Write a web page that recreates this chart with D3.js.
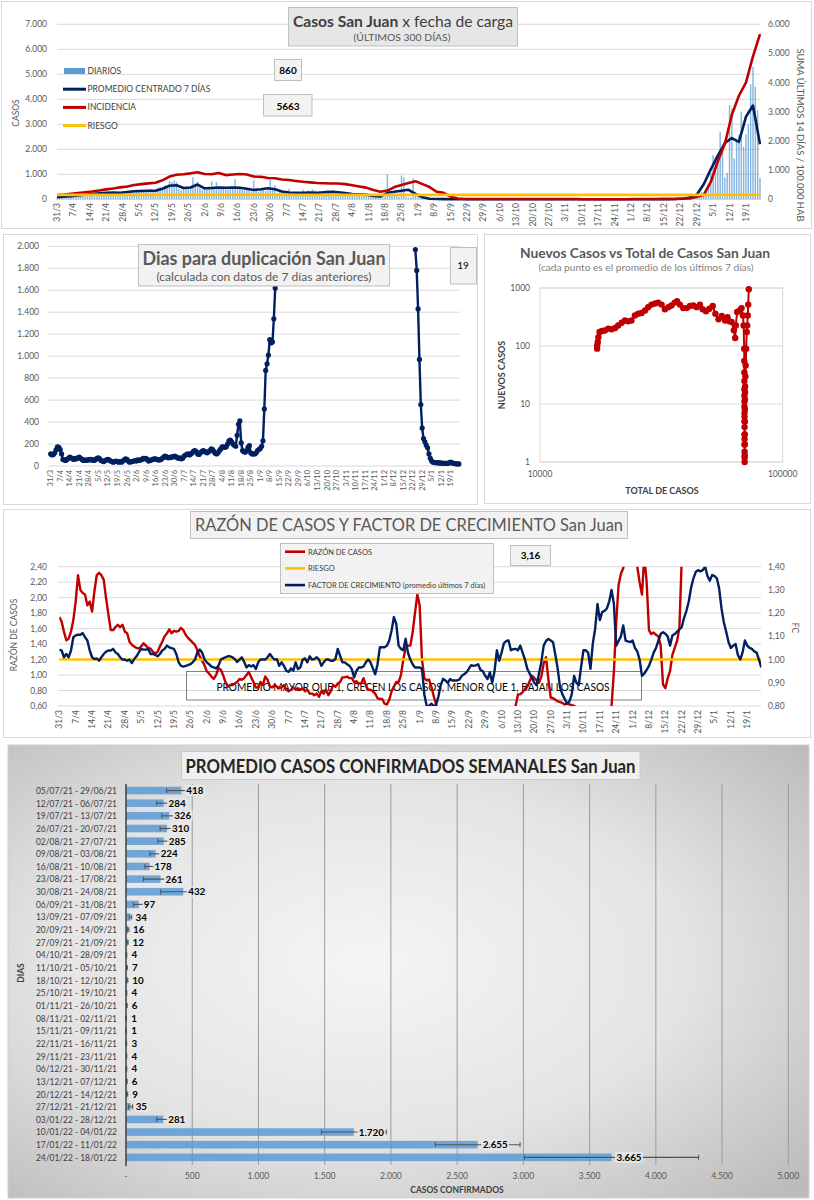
<!DOCTYPE html>
<html lang="es">
<head>
<meta charset="UTF-8">
<title>Casos San Juan</title>
<script src="https://d3js.org/d3.v7.min.js"></script>
<style>
  body { margin: 0; background: #fff; }
  svg text { font-family: Lato, "Open Sans", sans-serif; }
  .tick { font-size: 8.5px; fill: #595959; }
</style>
</head>
<body>
<svg id="chart" width="814" height="1200"></svg>
<script>
// ---------- datos ----------
// casos diarios desde el 31/3/2021 (un valor por día, 301 días)
const diarios = [
  60, 90, 120, 40, 150, 70, 110,  140, 90, 200, 160, 110, 230, 180,
  210, 160, 260, 190, 240, 280, 220,  300, 250, 210, 320, 260, 230, 290,
  270, 310, 240, 350, 300, 280, 380,  320, 410, 290, 350, 330, 420, 300,
  360, 450, 500, 380, 560, 520, 740,  700, 760, 690, 420, 380, 460, 500,
  430, 520, 880, 620, 700, 480, 390,  450, 400, 520, 720, 480, 690, 420,
  460, 520, 430, 390, 500, 470, 800,  450, 520, 400, 360, 430, 380, 310,
  750, 350, 300, 420, 380, 340, 360,  780, 420, 560, 250, 280, 330, 260,
  240, 420, 280, 300, 250, 260, 230,  380, 270, 350, 300, 400, 350, 260,
  300, 290, 330, 380, 310, 300, 380,  300, 280, 230, 260, 265, 280, 260,
  250, 190, 220, 210, 260, 180, 250,  220, 200, 170, 110, 140, 160, 80,
  120, 1000, 150, 170, 140, 170, 100,  950, 880, 100, 80, 70, 840, 300,
  120, 90, 60, 50, 30, 30, 60,  50, 40, 30, 20, 20, 18, 25,
  20, 15, 15, 12, 15, 10, 15,  12, 10, 14, 10, 12, 11, 5,
  4, 3, 6, 4, 3, 3, 8,  6, 7, 9, 5, 7, 7, 12,
  8, 10, 14, 9, 8, 9, 4,  5, 3, 4, 5, 3, 4, 6,
  7, 5, 6, 8, 5, 5, 1,  2, 1, 0, 1, 1, 1, 1,
  1, 0, 2, 1, 1, 1, 3,  2, 4, 3, 3, 4, 2, 4,
  5, 3, 4, 4, 5, 3, 3,  4, 5, 4, 4, 4, 4, 5,
  7, 6, 6, 5, 7, 6, 8,  10, 9, 9, 10, 8, 9, 15,
  20, 25, 30, 40, 50, 65, 80,  120, 190, 300, 260, 420, 600, 1065,
  1770, 1700, 1840, 2700, 2100, 865, 1065,  3770, 3640, 1640, 2370, 2600, 3500, 2100,
  2600, 3000, 4600, 5300, 4500, 3555, 860
];
// promedio centrado 7 días, leído cada 3 días
const pasoLineas = 3;
const promedio7 = [
  80, 100, 125, 150, 180, 210, 240, 265, 270, 265,
  290, 320, 335, 340, 345, 420, 540, 560, 450, 470,
  590, 440, 450, 470, 460, 470, 465, 420, 375, 400,
  440, 400, 310, 275, 265, 265, 270, 265, 280, 300,
  280, 250, 215, 200, 185, 130, 110, 260, 300, 340,
  380, 220, 80, 25, 10, 8, 6, 5, 4, 4,
  3, 3, 3, 3, 3, 3, 3, 3, 3, 3,
  3, 3, 3, 2, 2, 0, 0, 0, 0, 0,
  0, 0, 3, 3, 4, 5, 7, 8, 12, 25,
  70, 180, 600, 1200, 1750, 2250, 2450, 2300, 3300, 3750,
  2200
];
// incidencia: suma últimos 14 días / 100.000 hab, leída cada 3 días
const incidencia = [
  147, 165, 190, 215, 240, 265, 300, 340, 370, 410,
  440, 490, 520, 545, 570, 650, 780, 840, 860, 890,
  930, 870, 860, 905, 830, 850, 870, 850, 780, 770,
  730, 720, 680, 660, 630, 600, 580, 560, 550, 540,
  540, 520, 480, 440, 400, 320, 260, 300, 420, 490,
  560, 620, 520, 420, 260, 220, 90, 30, 12, 10,
  11, 9, 10, 10, 12, 9, 10, 11, 10, 9,
  10, 10, 9, 10, 10, 0, 0, 0, 0, 0,
  0, 0, 8, 8, 9, 10, 10, 12, 15, 25,
  30, 90, 150, 600, 1300, 1900, 2900, 3550, 4000, 4900,
  5663
];
const riesgoIncidencia = 150;
const ultimoDiario = "860";
const ultimaIncidencia = "5663";

// días para duplicación (dos tramos; entre ellos el valor supera la escala)
const duplicacionTramoA = [
  110, 100, 105, 120, 150, 175, 170, 150, 110, 60,
  55, 50, 60, 70, 80, 75, 65, 60, 70, 65,
  75, 80, 70, 60, 50, 55, 50, 55, 55, 60,
  55, 55, 50, 60, 70, 75, 65, 50, 45, 40,
  50, 55, 60, 55, 45, 40, 35, 40, 45, 40,
  35, 40, 35, 45, 55, 65, 60, 45, 35, 40,
  40, 45, 50, 45, 55, 50, 55, 60, 70, 65,
  70, 60, 45, 50, 55, 60, 65, 65, 60, 55,
  55, 60, 70, 80, 90, 85, 75, 75, 80, 80,
  85, 90, 85, 75, 70, 75, 65, 70, 90, 100,
  105, 110, 100, 110, 120, 135, 140, 130, 110, 105,
  120, 130, 140, 135, 125, 120, 130, 140, 155, 150,
  130, 115, 110, 120, 140, 155, 175, 175, 170, 175,
  200, 230, 235, 220, 200, 190, 180, 280, 380, 410,
  210, 140, 130, 125, 140, 170, 185, 120, 110, 110,
  110, 120, 140, 150, 160, 180, 230, 520, 870, 930,
  1010, 1150, 1120, 1130, 1340, 1620
];
const inicioTramoB = 268;
const duplicacionTramoB = [
  1970, 1780, 1430, 970, 560, 345, 250, 220, 190, 165,
  110, 70, 45, 35, 32, 30, 30, 28, 28, 27,
  26, 25, 25, 24, 24, 30, 35, 28, 25, 22,
  20, 19, 19
];
const ultimaDuplicacion = "19";

// nuevos casos (promedio 7 días) vs total de casos
const totalCasos = [
  17200, 17200, 17300, 17400, 17600, 18000, 18500, 19100, 19750, 20400,
  21000, 21700, 22400, 23100, 23800, 24600, 25400, 26200, 27100, 27900,
  28800, 29800, 30700, 31700, 32700, 33800, 34800, 35900, 36700, 37700,
  38900, 40200, 41500, 42800, 44200, 45600, 46800, 48300, 49900, 51500,
  52800, 54400, 56100, 57900, 59200, 60300, 61600, 62900, 63700, 64100,
  64900, 66600, 67700, 68600, 69000, 69400, 69450, 69500, 69520, 69540,
  69560, 69580, 69600, 69610, 69620, 69630, 69640, 69650, 69660, 69670,
  69680, 69690, 69700, 69720, 69740, 69760, 69800, 69850, 69900, 69950,
  70000, 70200, 70400, 70700, 71100, 71400, 71800, 72100, 72500
];
const nuevosCasos = [
  90, 102, 117, 142, 174, 181, 185, 199, 195, 204,
  226, 251, 276, 266, 276, 336, 360, 370, 410, 468,
  517, 540, 560, 517, 430, 468, 500, 560, 590, 517,
  450, 450, 490, 500, 468, 517, 430, 398, 440, 490,
  360, 288, 330, 276, 314, 266, 259, 186, 137, 226,
  386, 410, 450, 336, 226, 90, 55, 35, 25, 18,
  14, 11, 9, 7, 6, 5, 4, 3, 2.5, 2,
  1.5, 1.2, 1, 1.3, 2, 3, 5, 8, 12, 16,
  20, 30, 46, 90, 174, 226, 336, 517, 950
];
const ticksNuevos = [1, 10, 100, 1000];
const ticksTotal = [10000, 100000];

// razón de casos (eje izq.) y factor de crecimiento (eje der.), diarios
const razonCasos = [
  1.75, 1.69, 1.56, 1.45, 1.47, 1.56, 1.71, 1.95, 2.29, 2.10,
  2.06, 2.04, 1.90, 1.95, 1.82, 2.08, 2.29, 2.32, 2.29, 2.23,
  1.99, 1.78, 1.58, 1.58, 1.62, 1.65, 1.62, 1.65, 1.56, 1.54,
  1.43, 1.39, 1.37, 1.35, 1.34, 1.37, 1.41, 1.38, 1.35, 1.34,
  1.30, 1.28, 1.30, 1.37, 1.43, 1.50, 1.54, 1.59, 1.54, 1.57,
  1.56, 1.57, 1.61, 1.58, 1.52, 1.48, 1.45, 1.42, 1.39, 1.32,
  1.24, 1.19, 1.13, 1.05, 1.02, 0.98, 0.95, 1.00, 1.09, 1.07,
  1.00, 0.91, 0.85, 0.87, 0.87, 0.89, 0.91, 0.95, 0.94, 0.96,
  1.00, 1.04, 0.97, 0.91, 0.84, 0.84, 0.91, 0.87, 0.98, 0.94,
  0.85, 0.84, 0.87, 0.85, 0.83, 0.84, 0.87, 0.81, 0.79, 0.81,
  0.84, 0.81, 0.83, 0.81, 0.83, 0.79, 0.81, 0.76, 0.76, 0.74,
  0.76, 0.72, 0.79, 0.76, 0.81, 0.74, 0.79, 0.87, 0.85, 0.89,
  0.91, 0.97, 0.97, 0.98, 0.96, 0.96, 0.91, 0.92, 0.89, 0.89,
  0.96, 0.87, 0.81, 0.81, 0.79, 0.76, 0.70, 0.69, 0.69, 0.63,
  0.62, 0.68, 0.79, 0.85, 0.91, 0.91, 1.00, 1.20, 1.35, 1.38,
  1.38, 1.55, 1.80, 2.04, 1.90, 1.20, 0.96, 0.93, 0.94, 0.85,
  0.73, 0.62, 0.50, 0.45, 0.40, 0.40, 0.40, 0.40, 0.40, 0.40,
  0.40, 0.40, 0.40, 0.40, 0.40, 0.40, 0.40, 0.40, 0.40, 0.40,
  0.40, 0.40, 0.40, 0.40, 0.40, 0.40, 0.40, 0.40, 0.40, 0.40,
  0.40, 0.40, 0.40, 0.40, 0.45, 0.60, 0.75, 0.75, 0.78, 0.82,
  0.85, 0.92, 0.99, 0.96, 0.93, 0.90, 0.98, 1.15, 1.23, 0.95,
  0.71, 0.70, 0.68, 0.66, 0.65, 0.64, 0.62, 0.63, 0.62, 0.61,
  0.60, 0.58, 0.45, 0.40, 0.40, 0.40, 0.40, 0.40, 0.40, 0.40,
  0.40, 0.40, 0.40, 0.40, 0.40, 0.45, 0.60, 1.04, 1.68, 2.16,
  2.31, 2.38, 2.60, 2.70, 2.80, 2.70, 2.55, 2.40, 2.20, 2.04,
  2.55, 2.20, 1.58, 1.53, 1.55, 1.52, 1.50, 1.38, 0.88, 0.83,
  0.96, 1.05, 1.26, 1.35, 1.44, 1.61, 2.50, 2.90, 3.20, 3.50,
  3.80, 4.00, 4.20, 4.50, 4.60, 4.80, 5.00, 5.20, 5.00, 4.80,
  4.60, 4.40, 4.20, 4.00, 3.90, 3.80, 3.70, 3.60, 3.50, 3.45,
  3.40, 3.35, 3.30, 3.30, 3.25, 3.20, 3.20, 3.18, 3.17, 3.16,
  3.16
];
const factorCrecimiento = [
  1.043, 1.039, 1.01, 1.024, 1.01, 1.039, 1.096, 1.104, 1.107, 1.107,
  1.114, 1.096, 1.082, 1.039, 1.01, 1.002, 1.005, 0.995, 1.01, 1.024,
  1.034, 1.039, 1.039, 1.046, 1.031, 1.024, 1.01, 1.0, 1.0, 0.995,
  1.0, 0.985, 1.002, 1.014, 1.031, 1.046, 1.043, 1.043, 1.046, 1.024,
  1.024, 1.02, 1.014, 1.024, 1.039, 1.046, 1.06, 1.053, 1.049, 1.046,
  1.024, 0.988, 0.973, 0.97, 0.973, 0.976, 0.98, 0.988, 1.0, 1.031,
  1.043, 1.031, 1.002, 0.988, 0.98, 0.97, 0.966, 0.962, 0.973, 1.0,
  1.005, 1.01, 1.014, 1.014, 1.01, 1.002, 0.99, 1.0, 1.01, 0.99,
  0.966, 0.976, 0.97, 0.976, 0.959, 0.988, 1.0, 1.0, 1.0, 1.01,
  1.024, 1.01, 1.0, 1.002, 0.973, 0.988, 0.973, 0.952, 0.947, 0.962,
  0.952, 0.988, 0.959, 0.966, 1.0, 1.005, 0.988, 1.014, 1.0, 1.002,
  1.01, 1.0, 0.973, 0.988, 1.0, 1.0, 0.995, 0.995, 1.002, 1.046,
  1.017, 0.988, 0.988, 0.98, 0.973, 0.959, 0.923, 0.952, 0.966, 0.966,
  0.97, 0.988, 1.0, 0.988, 0.962, 0.937, 0.98, 1.053, 1.053, 1.053,
  1.06, 1.082, 1.125, 1.183, 1.154, 1.06, 1.046, 1.04, 1.09, 1.03,
  1.0, 0.98, 0.966, 0.966, 0.966, 0.96, 0.85, 0.80, 0.80, 0.81,
  0.80, 0.805, 0.84, 0.89, 0.917, 0.91, 0.90, 0.916, 0.91, 0.91,
  0.91, 0.915, 0.93, 0.937, 0.945, 0.96, 0.976, 0.973, 0.975, 0.98,
  0.955, 0.95, 0.93, 0.916, 0.945, 0.9, 0.95, 1.04, 0.995, 1.03,
  1.07, 1.08, 1.082, 1.04, 1.045, 1.046, 1.04, 1.06, 1.03, 1.0,
  0.96, 0.94, 0.92, 0.9, 0.89, 0.94, 0.99, 1.06, 1.08, 1.089,
  1.082, 1.075, 1.02, 0.96, 0.88, 0.85, 0.83, 0.81, 0.82, 0.85,
  0.93, 0.9, 0.89, 0.97, 1.04, 1.04, 1.03, 0.96, 1.07, 1.133,
  1.24, 1.17, 1.205, 1.21, 1.22, 1.25, 1.3, 1.24, 1.06, 1.08,
  1.1, 1.147, 1.082, 1.078, 1.075, 1.082, 1.05, 1.035, 1.0, 0.93,
  0.94, 0.955, 0.973, 1.0, 1.03, 1.05, 1.08, 1.11, 1.118, 1.111,
  1.1, 1.06, 1.104, 1.11, 1.12, 1.13, 1.14, 1.18, 1.21, 1.25,
  1.31, 1.35, 1.378, 1.385, 1.38, 1.385, 1.40, 1.36, 1.34, 1.364,
  1.36, 1.35, 1.306, 1.22, 1.16, 1.12, 1.075, 1.05, 1.06, 1.067,
  1.02, 1.0, 1.031, 1.082, 1.06, 1.05, 1.046, 1.035, 1.03, 1.0,
  0.966
];
const riesgoRazon = 1.2;
const ultimaRazon = "3,16";

// promedio semanal de casos confirmados
const semanas = [
  "05/07/21 - 29/06/21", "12/07/21 - 06/07/21", "19/07/21 - 13/07/21", "26/07/21 - 20/07/21",
  "02/08/21 - 27/07/21", "09/08/21 - 03/08/21", "16/08/21 - 10/08/21", "23/08/21 - 17/08/21",
  "30/08/21 - 24/08/21", "06/09/21 - 31/08/21", "13/09/21 - 07/09/21", "20/09/21 - 14/09/21",
  "27/09/21 - 21/09/21", "04/10/21 - 28/09/21", "11/10/21 - 05/10/21", "18/10/21 - 12/10/21",
  "25/10/21 - 19/10/21", "01/11/21 - 26/10/21", "08/11/21 - 02/11/21", "15/11/21 - 09/11/21",
  "22/11/21 - 16/11/21", "29/11/21 - 23/11/21", "06/12/21 - 30/11/21", "13/12/21 - 07/12/21",
  "20/12/21 - 14/12/21", "27/12/21 - 21/12/21", "03/01/22 - 28/12/21", "10/01/22 - 04/01/22",
  "17/01/22 - 11/01/22", "24/01/22 - 18/01/22"
];
const promedioSemanal = [418, 284, 326, 310, 285, 224, 178, 261, 432, 97, 34, 16, 12, 4, 7,
  10, 4, 6, 1, 1, 3, 4, 4, 6, 9, 35, 281, 1720, 2655, 3665];
const errorSemanal = [111, 52, 56, 53, 45, 43, 35, 130, 170, 42, 9, 6, 4, 2, 3,
  4, 2, 3, 1, 1, 2, 2, 2, 3, 4, 15, 49, 245, 320, 658];

// ---------- utilidades ----------
const inicio = new Date(2021, 2, 31);
const fecha = i => d3.timeDay.offset(inicio, i);
const fmtFecha = d3.timeFormat("%-d/%-m");
const es = d3.formatLocale({decimal: ",", thousands: ".", grouping: [3], currency: ["$", ""]});
const fmtMiles = es.format(",.0f");
const fmtDec2 = es.format(".2f");
const marcasSemanales = d3.range(0, 295, 7);

const AZUL = "#002060", ROJO = "#c00000", AMARILLO = "#ffc000", CELESTE = "#5b9bd5";

const svg = d3.select("#chart");
const defs = svg.append("defs");

function texto(g, x, y, s, size, o = {}) {
  const t = g.append("text").attr("x", x).attr("y", y).attr("font-size", size)
    .attr("fill", o.fill || "#595959").attr("text-anchor", o.anchor || "start").text(s);
  if (o.bold) t.attr("font-weight", "bold");
  if (o.len) t.attr("textLength", o.len).attr("lengthAdjust", "spacingAndGlyphs");
  if (o.rot) t.attr("transform", `rotate(${o.rot},${x},${y})`);
  return t;
}
function caja(g, x, y, w, h, fill, stroke) {
  return g.append("rect").attr("x", x).attr("y", y).attr("width", w).attr("height", h)
    .attr("fill", fill || "#f2f2f2").attr("stroke", stroke || "#bfbfbf");
}
function fechasEje(g, x, y0, size) {
  g.selectAll(null).data(marcasSemanales).join("text")
    .attr("transform", d => `translate(${x(fecha(d)) + size * 0.35},${y0}) rotate(-90)`)
    .attr("text-anchor", "end").attr("font-size", size).attr("fill", "#595959")
    .text(d => fmtFecha(fecha(d)));
}

// ---------- 1. casos por fecha de carga ----------
const gA = svg.append("g");
caja(gA, 1.5, 1.5, 810, 227, "#fff", "#d9d9d9");
const xA = d3.scaleTime().domain([fecha(0), fecha(300)]).range([57, 760]);
const yA = d3.scaleLinear().domain([0, 7000]).range([199.3, 24.3]);
const yA2 = d3.scaleLinear().domain([0, 6000]).range([199.3, 24.3]);

gA.selectAll(null).data(yA.ticks(7)).join("line")
  .attr("x1", 57).attr("x2", 760).attr("y1", d => yA(d)).attr("y2", d => yA(d))
  .attr("stroke", "#d9d9d9");
gA.selectAll(null).data(yA.ticks(7)).join("text").attr("class", "tick")
  .attr("x", 47).attr("y", d => yA(d) + 3).attr("text-anchor", "end").text(d => fmtMiles(d));
gA.selectAll(null).data(yA2.ticks(6)).join("text").attr("class", "tick")
  .attr("x", 768).attr("y", d => yA2(d) + 3).text(d => fmtMiles(d));
fechasEje(gA, xA, 203, 8.5);
texto(gA, 19, 113, "CASOS", 8.5, {anchor: "middle", rot: -90});
texto(gA, 797, 135, "SUMA  ÚLTIMOS 14 DÍAS / 100.000 HAB", 9.5, {anchor: "middle", rot: 90, len: 173});

gA.selectAll(null).data(diarios).join("rect")
  .attr("x", (d, i) => xA(fecha(i)) - 0.7).attr("width", 1.4)
  .attr("y", d => yA(d)).attr("height", d => yA(0) - yA(d))
  .attr("fill", CELESTE).attr("opacity", 0.75);

const serieA = (arr, y) => d3.line()
  .x((p, k) => xA(fecha(k * pasoLineas))).y(p => y(p))(arr);
gA.append("path").attr("d", serieA(promedio7, yA)).attr("fill", "none")
  .attr("stroke", AZUL).attr("stroke-width", 2.6).attr("stroke-linejoin", "round");
gA.append("path").attr("d", serieA(incidencia, yA2)).attr("fill", "none")
  .attr("stroke", ROJO).attr("stroke-width", 2.6).attr("stroke-linejoin", "round");
gA.append("line").attr("x1", xA(fecha(0))).attr("x2", xA(fecha(300)))
  .attr("y1", yA2(riesgoIncidencia)).attr("y2", yA2(riesgoIncidencia))
  .attr("stroke", AMARILLO).attr("stroke-width", 2.8);

// leyenda
const legA = [
  {t: "DIARIOS", c: CELESTE, barra: true},
  {t: "PROMEDIO CENTRADO 7 DÍAS", c: AZUL},
  {t: "INCIDENCIA", c: ROJO},
  {t: "RIESGO", c: AMARILLO}
];
legA.forEach((l, i) => {
  const y = 71 + i * 18.2;
  if (l.barra) gA.append("rect").attr("x", 64).attr("y", y - 3).attr("width", 21).attr("height", 6).attr("fill", CELESTE);
  else gA.append("line").attr("x1", 63).attr("x2", 86).attr("y1", y).attr("y2", y).attr("stroke", l.c).attr("stroke-width", 3);
  texto(gA, 87.5, y + 3, l.t, 8.5, {fill: "#404040"});
});

caja(gA, 288.5, 7.5, 229, 38.5, "#e7e6e6", "#bfbfbf");
const tA = texto(gA, 403, 27, "", 16, {anchor: "middle", fill: "#404040", len: 220});
tA.append("tspan").attr("font-weight", "bold").text("Casos San Juan");
tA.append("tspan").text(" x fecha de carga");
texto(gA, 402, 41, "(ÚLTIMOS 300 DÍAS)", 10, {anchor: "middle", len: 97});
caja(gA, 274.5, 59.5, 27, 21);
texto(gA, 288, 74, ultimoDiario, 10, {anchor: "middle", fill: "#000", bold: true});
caja(gA, 263.5, 94.5, 48.5, 21.5);
texto(gA, 288, 109.5, ultimaIncidencia, 10, {anchor: "middle", fill: "#000", bold: true});

// ---------- 2. días para duplicación ----------
const gB = svg.append("g");
caja(gB, 3.5, 234.5, 474, 270, "#fff", "#d9d9d9");
const xB = d3.scaleTime().domain([fecha(0), fecha(300)]).range([50.7, 458.9]);
const yB = d3.scaleLinear().domain([0, 2000]).range([466, 246.3]);
gB.selectAll(null).data(yB.ticks(10)).join("line")
  .attr("x1", 48).attr("x2", 460).attr("y1", d => yB(d)).attr("y2", d => yB(d)).attr("stroke", "#d9d9d9");
gB.selectAll(null).data(yB.ticks(10)).join("text").attr("class", "tick")
  .attr("x", 39).attr("y", d => yB(d) + 3).attr("text-anchor", "end").text(d => fmtMiles(d));
fechasEje(gB, xB, 470, 7.5);

const puntosB = duplicacionTramoA.map((v, i) => ({d: i, v}))
  .concat([{d: duplicacionTramoA.length, v: null}])
  .concat(duplicacionTramoB.map((v, i) => ({d: inicioTramoB + i, v})));
const lineaB = d3.line().defined(p => p.v !== null).x(p => xB(fecha(p.d))).y(p => yB(p.v));
gB.append("path").attr("d", lineaB(puntosB)).attr("fill", "none")
  .attr("stroke", AZUL).attr("stroke-width", 2.4).attr("stroke-linejoin", "round");
gB.selectAll(null).data(puntosB.filter(p => p.v !== null)).join("circle")
  .attr("cx", p => xB(fecha(p.d))).attr("cy", p => yB(p.v)).attr("r", 2.6).attr("fill", AZUL);

caja(gB, 138.5, 244.5, 251, 41.5);
texto(gB, 264, 265, "Dias para duplicación San Juan", 19, {anchor: "middle", bold: true, len: 243});
texto(gB, 264, 281, "(calculada con datos de 7 días anteriores)", 11.5, {anchor: "middle", len: 215});
caja(gB, 450.5, 247.5, 26, 36.5);
texto(gB, 463, 269, ultimaDuplicacion, 10, {anchor: "middle", fill: "#000"});

// ---------- 3. nuevos casos vs total ----------
const gC = svg.append("g");
caja(gC, 484.5, 234.5, 326, 269, "#fff", "#d9d9d9");
const xC = d3.scaleLog().domain([1e4, 1e5]).range([540, 782.7]);
const yC = d3.scaleLog().domain([1, 1000]).range([462, 288]);
gC.selectAll(null).data(ticksNuevos).join("line")
  .attr("x1", 540).attr("x2", 782.7).attr("y1", d => yC(d)).attr("y2", d => yC(d)).attr("stroke", "#d9d9d9");
gC.append("rect").attr("x", 540).attr("y", 288).attr("width", 242.7).attr("height", 174)
  .attr("fill", "none").attr("stroke", "#d9d9d9");
gC.selectAll(null).data(ticksNuevos).join("text").attr("class", "tick")
  .attr("x", 530).attr("y", d => yC(d) + 3).attr("text-anchor", "end").text(d => d);
gC.selectAll(null).data(ticksTotal).join("text").attr("class", "tick")
  .attr("x", d => xC(d)).attr("y", 477).attr("text-anchor", "middle").text(d => d);
texto(gC, 645, 258, "Nuevos Casos vs Total de Casos San Juan", 13, {anchor: "middle", bold: true, len: 250});
texto(gC, 646, 271, "(cada punto es el promedio de los últimos 7 días)", 9.5, {anchor: "middle", fill: "#7f7f7f", len: 215});
texto(gC, 505, 375, "NUEVOS  CASOS", 9, {anchor: "middle", bold: true, fill: "#404040", rot: -90});
texto(gC, 662, 494, "TOTAL DE CASOS", 9, {anchor: "middle", bold: true, fill: "#404040"});

const puntosC = totalCasos.map((t, i) => [t, nuevosCasos[i]]);
gC.append("path").attr("d", d3.line().x(p => xC(p[0])).y(p => yC(p[1]))(puntosC))
  .attr("fill", "none").attr("stroke", ROJO).attr("stroke-width", 2);
gC.selectAll(null).data(puntosC).join("circle")
  .attr("cx", p => xC(p[0])).attr("cy", p => yC(p[1])).attr("r", 3.2).attr("fill", ROJO);

// ---------- 4. razón de casos y factor de crecimiento ----------
const gD = svg.append("g");
caja(gD, 3.5, 509.5, 807, 228, "#fff", "#d9d9d9");
const xD = d3.scaleTime().domain([fecha(0), fecha(300)]).range([59.3, 761.3]);
const yD = d3.scaleLinear().domain([0.6, 2.4]).range([706, 566.7]);
const yD2 = d3.scaleLinear().domain([0.8, 1.4]).range([706, 566.7]);
gD.selectAll(null).data(yD.ticks(9)).join("line")
  .attr("x1", 58).attr("x2", 761).attr("y1", d => yD(d)).attr("y2", d => yD(d)).attr("stroke", "#d9d9d9");
gD.selectAll(null).data(yD.ticks(9)).join("text").attr("class", "tick")
  .attr("x", 47).attr("y", d => yD(d) + 3).attr("text-anchor", "end").text(d => fmtDec2(d));
gD.selectAll(null).data(yD2.ticks(6)).join("text").attr("class", "tick")
  .attr("x", 768).attr("y", d => yD2(d) + 3).text(d => fmtDec2(d));
fechasEje(gD, xD, 710, 8.5);
texto(gD, 17, 635, "RAZÓN DE CASOS", 8.5, {anchor: "middle", rot: -90});
texto(gD, 792, 628, "FC", 8.5, {anchor: "middle", rot: 90});

// cuadro de nota (detrás de las líneas)
gD.append("rect").attr("x", 186.5).attr("y", 671.5).attr("width", 455).attr("height", 28.5)
  .attr("fill", "none").attr("stroke", "#7f7f7f");
texto(gD, 413, 690.5, "PROMEDIO MAYOR QUE 1, CRECEN LOS CASOS, MENOR QUE 1, BAJAN LOS CASOS", 11,
  {anchor: "middle", fill: "#000", len: 393});

defs.append("clipPath").attr("id", "recorteD").append("rect")
  .attr("x", 59.3).attr("y", 566.7).attr("width", 702).attr("height", 139.3);
const gDl = gD.append("g").attr("clip-path", "url(#recorteD)");
const lineaD = y => d3.line().x((v, i) => xD(fecha(i))).y(v => y(v));
gDl.append("path").attr("d", lineaD(yD)(razonCasos)).attr("fill", "none")
  .attr("stroke", ROJO).attr("stroke-width", 2.4).attr("stroke-linejoin", "round");
gDl.append("line").attr("x1", xD(fecha(0))).attr("x2", xD(fecha(300)))
  .attr("y1", yD(riesgoRazon)).attr("y2", yD(riesgoRazon)).attr("stroke", AMARILLO).attr("stroke-width", 2.4);
gDl.append("path").attr("d", lineaD(yD2)(factorCrecimiento)).attr("fill", "none")
  .attr("stroke", AZUL).attr("stroke-width", 2.4).attr("stroke-linejoin", "round");

caja(gD, 190.5, 511.5, 437, 27);
texto(gD, 409, 531, "RAZÓN DE CASOS Y FACTOR DE CRECIMIENTO San Juan", 18, {anchor: "middle", len: 428});
caja(gD, 280.5, 543.5, 213, 50);
[
  {t: "RAZÓN DE CASOS", c: ROJO},
  {t: "RIESGO", c: AMARILLO},
  {t: "FACTOR DE CRECIMIENTO (promedio últimos 7 días)", c: AZUL}
].forEach((l, i) => {
  const y = 551.7 + i * 16.7;
  gD.append("line").attr("x1", 285).attr("x2", 305).attr("y1", y).attr("y2", y).attr("stroke", l.c).attr("stroke-width", 2.6);
  texto(gD, 308, y + 2.8, l.t, 7.5, {fill: "#404040"});
});
caja(gD, 510.5, 545.5, 40, 20);
texto(gD, 530.5, 559, ultimaRazon, 10, {anchor: "middle", fill: "#000", bold: true});

// ---------- 5. promedio semanal ----------
const gE = svg.append("g");
const grad = defs.append("radialGradient").attr("id", "fondoE")
  .attr("cx", "45%").attr("cy", "48%").attr("r", "72%");
grad.append("stop").attr("offset", "0").attr("stop-color", "#f5f5f5");
grad.append("stop").attr("offset", "0.55").attr("stop-color", "#e4e4e4");
grad.append("stop").attr("offset", "1").attr("stop-color", "#bcbcbc");
gE.append("rect").attr("x", 8).attr("y", 745).attr("width", 801).attr("height", 453)
  .attr("fill", "url(#fondoE)").attr("stroke", "#d0d0d0");

const xE = d3.scaleLinear().domain([0, 5000]).range([126, 788.3]);
const yE = d3.scaleBand().domain(semanas).range([781.7, 1166.2]).padding(0.4);
const ticksE = xE.ticks(10);
gE.selectAll(null).data(ticksE.filter(d => d > 0)).join("line")
  .attr("x1", d => xE(d)).attr("x2", d => xE(d)).attr("y1", 784).attr("y2", 1165)
  .attr("stroke", "#9a9a9a").attr("stroke-width", 1);
gE.selectAll(null).data(ticksE).join("text").attr("class", "tick")
  .attr("x", d => xE(d)).attr("y", 1179).attr("text-anchor", "middle").attr("font-size", 9.5)
  .text(d => d === 0 ? "-" : fmtMiles(d));
gE.selectAll(null).data(semanas).join("text")
  .attr("x", 117).attr("y", s => yE(s) + yE.bandwidth() / 2 + 3.4).attr("text-anchor", "end")
  .attr("font-size", 9.6).attr("fill", "#404040")
  .attr("textLength", 81).attr("lengthAdjust", "spacingAndGlyphs").text(s => s);

gE.selectAll(null).data(promedioSemanal).join("rect")
  .attr("x", xE(0)).attr("y", (v, i) => yE(semanas[i]))
  .attr("width", v => xE(v) - xE(0)).attr("height", yE.bandwidth())
  .attr("fill", CELESTE).attr("opacity", 0.85);

// barras de error
promedioSemanal.forEach((v, i) => {
  const yc = yE(semanas[i]) + yE.bandwidth() / 2;
  const a = xE(Math.max(0, v - errorSemanal[i])), b = xE(v + errorSemanal[i]);
  gE.append("line").attr("x1", a).attr("x2", b).attr("y1", yc).attr("y2", yc)
    .attr("stroke", "#505050").attr("stroke-width", 1.1);
  [a, b].forEach(x => gE.append("line").attr("x1", x).attr("x2", x)
    .attr("y1", yc - 2.5).attr("y2", yc + 2.5).attr("stroke", "#505050").attr("stroke-width", 1));
});
// etiquetas de valor
promedioSemanal.forEach((v, i) => {
  const yc = yE(semanas[i]) + yE.bandwidth() / 2;
  const bg = gE.append("rect");
  const t = texto(gE, xE(v) + 5, yc + 3.5, fmtMiles(v), 9.8, {fill: "#000", bold: true});
  const w = t.node().getComputedTextLength();
  bg.attr("x", xE(v) + 3.5).attr("y", yc - 5.5).attr("width", w + 3).attr("height", 11)
    .attr("rx", 1.5).attr("fill", "#e9e9e9").attr("opacity", 0.85);
});

gE.append("line").attr("x1", xE(0)).attr("x2", xE(0)).attr("y1", 784).attr("y2", 1166)
  .attr("stroke", "#404040").attr("stroke-width", 1.5);

caja(gE, 181.5, 751.5, 458.5, 28, "#f0f0f0", "#c8c8c8");
texto(gE, 410.5, 772.5, "PROMEDIO CASOS CONFIRMADOS SEMANALES San Juan", 18.5,
  {anchor: "middle", bold: true, fill: "#262626", len: 450});
texto(gE, 457, 1193, "CASOS CONFIRMADOS", 8.5, {anchor: "middle", bold: true, fill: "#404040"});
texto(gE, 24, 973, "DIAS", 8.5, {anchor: "middle", bold: true, fill: "#404040", rot: -90});
</script>
</body>
</html>
